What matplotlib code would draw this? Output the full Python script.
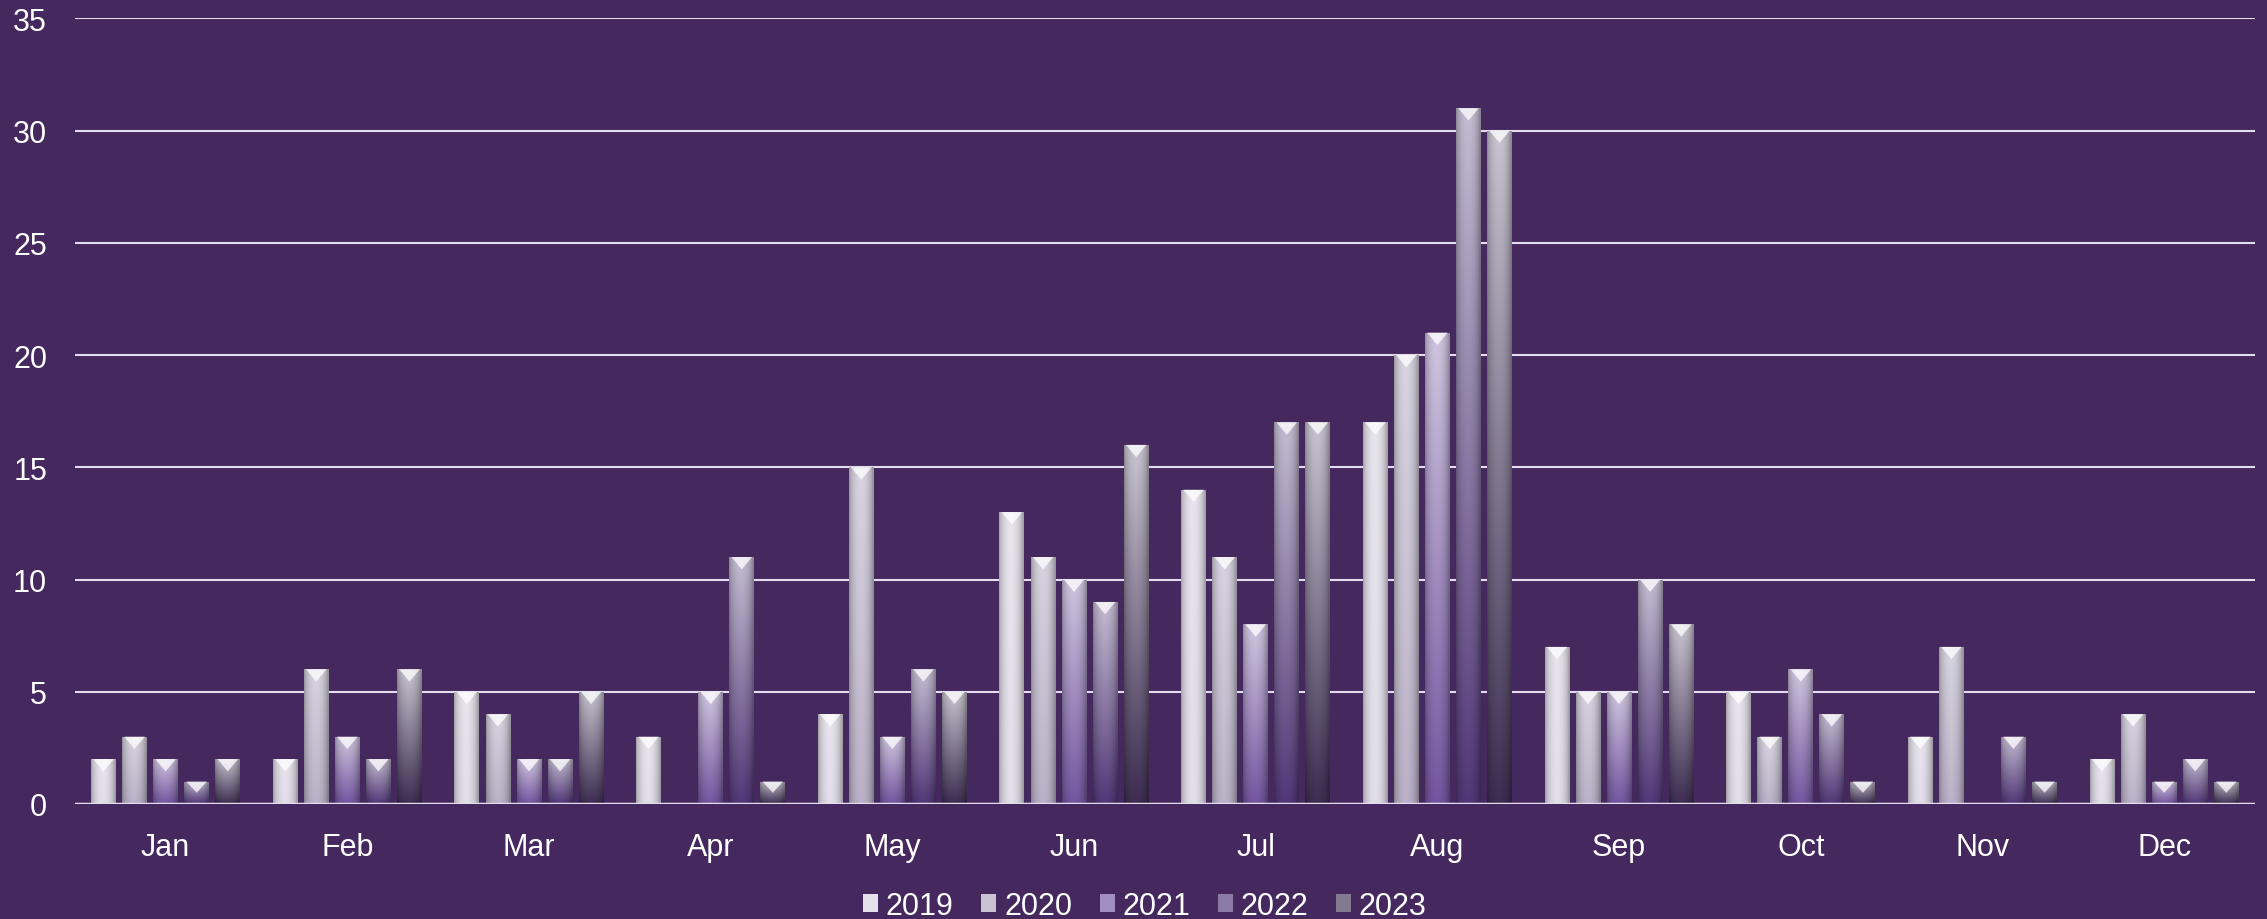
import numpy as np
import matplotlib.pyplot as plt
from matplotlib.patches import Polygon, Rectangle
from matplotlib.colors import to_rgb

months = ["Jan", "Feb", "Mar", "Apr", "May", "Jun", "Jul", "Aug", "Sep", "Oct", "Nov", "Dec"]
years = ["2019", "2020", "2021", "2022", "2023"]
v2019 = [2, 2, 5, 3, 4, 13, 14, 17, 7, 5, 3, 2]
v2020 = [3, 6, 4, 0, 15, 11, 11, 20, 5, 3, 7, 4]
v2021 = [2, 3, 2, 5, 3, 10, 8, 21, 5, 6, 0, 1]
v2022 = [1, 2, 2, 11, 6, 9, 17, 31, 10, 4, 3, 2]
v2023 = [2, 6, 5, 1, 5, 16, 17, 30, 8, 1, 1, 1]
series = [v2019, v2020, v2021, v2022, v2023]

# top / bottom colour of each series gradient
tops = ["#E8E4EE", "#D8D4E0", "#D0C6E0", "#C4BCD2", "#C8C4D0"]
bottoms = ["#E2DEEA", "#BAB2C8", "#7456A0", "#523878", "#3E2E52"]

bg = "#44285E"
plt.rcParams["font.family"] = ["Liberation Sans", "DejaVu Sans"]

fig = plt.figure(figsize=(22.67, 9.2), dpi=100, facecolor=bg)
ax = fig.add_axes([0.033, 0.125, 0.9617, 0.854])
ax.set_facecolor(bg)

x = np.arange(len(months))
pitch = 0.171
width = 0.137

# horizontal cylinder-ish shading
u = np.linspace(0, 1, 40)
prof = 0.70 + 0.30 * np.sin(np.pi * np.clip(u * 1.05, 0, 1)) ** 0.6
tri_h = 0.55

for i, vals in enumerate(series):
    ct = np.array(to_rgb(tops[i]))
    cb = np.array(to_rgb(bottoms[i]))
    for j, v in enumerate(vals):
        if v <= 0:
            continue
        x0 = x[j] + (i - 2) * pitch - width / 2
        t = np.linspace(0, 1, 60)[:, None, None]
        col = ct * (1 - t) + cb * t
        img = np.clip(col * prof[None, :, None], 0, 1)
        rect = Rectangle((x0, 0), width, v, facecolor="none", edgecolor="none")
        ax.add_patch(rect)
        im = ax.imshow(img, extent=(x0, x0 + width, 0, v), aspect="auto",
                       origin="upper", zorder=3, interpolation="bilinear")
        im.set_clip_path(rect)
        th = min(tri_h, v * 0.5)
        ax.add_patch(Polygon([[x0 + 0.012, v], [x0 + width - 0.012, v],
                              [x0 + width / 2, v - th]], closed=True,
                             facecolor="white", alpha=0.75, edgecolor="none", zorder=4))

ax.set_xlim(-0.5, 11.5)
ax.set_ylim(0, 35)
ax.set_yticks(range(0, 36, 5))
ax.set_xticks(x)
ax.set_xticklabels(months)
ax.grid(axis="y", color="#E4DCEE", linewidth=1.5, zorder=1)
ax.set_axisbelow(True)
for s in ax.spines.values():
    s.set_visible(False)
ax.axhline(0, color="#E4DCEE", linewidth=2.5, zorder=5)
ax.tick_params(axis="both", length=0, colors="white", labelsize=22)
ax.tick_params(axis="y", pad=20)
ax.tick_params(axis="x", pad=20)

handles = [Rectangle((0, 0), 1, 1, facecolor=(np.array(to_rgb(tops[i])) + np.array(to_rgb(bottoms[i]))) / 2,
                     edgecolor="none") for i in range(5)]
fig.legend(handles, years, loc="lower center", bbox_to_anchor=(0.505, -0.032), ncol=5,
           frameon=False, fontsize=22, labelcolor="white", handlelength=0.5,
           handleheight=0.5, handletextpad=0.25, columnspacing=0.9)

fig.savefig("out.png", dpi=100, facecolor=bg)
